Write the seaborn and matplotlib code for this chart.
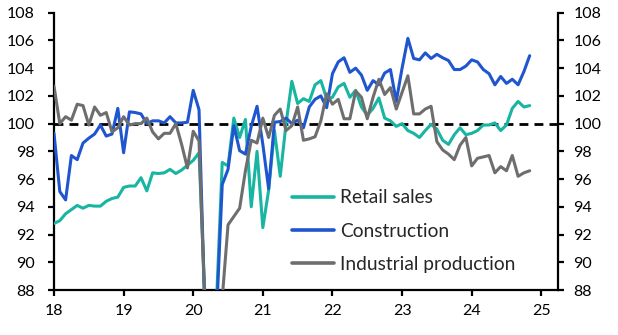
import matplotlib
matplotlib.use("Agg")
import matplotlib.pyplot as plt
import seaborn as sns
import numpy as np
import pandas as pd
from matplotlib.lines import Line2D

# ---- data (monthly, Jan 2018 - Nov 2024) ----
retail_sales = [
    92.8, 93.0, 93.5, 93.8, 94.1, 93.9, 94.1, 94.05, 94.05, 94.4, 94.6, 94.7,
    95.4, 95.5, 95.5, 96.1, 95.15, 96.45, 96.4, 96.45, 96.7, 96.4, 96.65, 97.0,
    97.35, 97.9, 87.6, 70.0, 87.0, 97.2, 96.95, 100.4, 99.0, 100.3, 94.0, 98.0,
    92.5, 95.2, 99.5, 96.2, 100.0, 103.05, 101.45, 101.8, 101.6, 102.8, 103.1, 101.8,
    101.9, 102.65, 102.9, 101.9, 102.4, 101.2, 100.6, 101.1, 101.85, 100.4, 100.2, 99.8,
    100.0, 99.5, 99.3, 99.0, 99.5, 99.95, 99.6, 98.8, 98.5, 99.2, 99.7, 99.2,
    99.3, 99.5, 99.9, 99.9, 100.05, 99.5, 99.9, 101.1, 101.6, 101.2, 101.3,
]
construction = [
    99.3, 95.1, 94.5, 97.7, 97.4, 98.6, 98.95, 99.25, 99.9, 99.1, 99.25, 101.1,
    97.9, 100.85, 100.8, 100.7, 100.0, 100.2, 100.2, 100.05, 100.5, 100.05, 100.05, 100.1,
    102.4, 101.0, 86.5, 72.0, 86.0, 95.6, 96.7, 99.85, 98.05, 97.8, 99.8, 101.25,
    98.5, 95.3, 100.1, 100.15, 100.4, 100.0, 100.25, 99.7, 101.2, 101.75, 102.0, 101.15,
    103.6, 104.45, 104.75, 103.7, 104.0, 103.5, 102.4, 103.1, 102.8, 103.65, 103.9, 101.6,
    104.0, 106.15, 104.7, 104.6, 105.1, 104.7, 105.0, 104.75, 104.55, 103.9, 103.9, 104.15,
    104.6, 104.45, 103.9, 103.6, 102.8, 103.4, 102.9, 103.2, 102.8, 103.75, 104.9,
]
industrial_production = [
    102.7, 100.0, 100.5, 100.25, 101.4, 101.3, 99.9, 101.2, 100.6, 100.8, 99.4, 99.7,
    100.5, 99.9, 100.0, 100.0, 100.4, 99.4, 98.9, 99.3, 99.3, 100.0, 98.5, 96.8,
    99.45, 98.75, 86.8, 72.0, 75.0, 87.4, 92.7, 93.3, 93.9, 96.6, 98.8, 98.6,
    100.4, 99.0, 100.6, 101.05, 99.5, 99.85, 101.2, 98.8, 98.9, 99.05, 100.2, 102.15,
    101.4, 101.75, 100.35, 100.35, 102.35, 101.9, 100.35, 101.9, 103.2, 102.1, 102.6, 101.05,
    102.25, 103.45, 100.7, 100.7, 101.05, 101.25, 98.7, 98.1, 97.8, 97.4, 98.45, 99.0,
    96.95, 97.5, 97.6, 97.7, 96.45, 96.9, 96.6, 97.7, 96.2, 96.45, 96.6,
]
series_names = ["Retail sales", "Construction", "Industrial production"]
series_colors = ["#17b5a2", "#1f56cf", "#6e6e6e"]
x_ticks = [18, 19, 20, 21, 22, 23, 24, 25]
y_ticks = [88, 90, 92, 94, 96, 98, 100, 102, 104, 106, 108]

n = len(retail_sales)
x_vals = 18 + np.arange(n) / 12.0

frames = []
for name, vals in zip(series_names, [retail_sales, construction, industrial_production]):
    frames.append(pd.DataFrame({"x": x_vals[:len(vals)], "value": vals, "series": name}))
df = pd.concat(frames, ignore_index=True)

sns.set_theme(style="ticks")
plt.rcParams["font.family"] = ["Lato", "DejaVu Sans"]

fig = plt.figure(figsize=(6.18, 3.35), dpi=100)
ax = fig.add_axes([54 / 618, 1 - 290 / 335, (558 - 54) / 618, (290 - 12.7) / 335])

ax.axhline(100, color="black", lw=2.0, ls=(0, (3.2, 2.2)), zorder=1)

sns.lineplot(data=df, x="x", y="value", hue="series", hue_order=series_names,
             palette=series_colors, lw=2.2, ax=ax, legend=False, zorder=3)

ax.set_xlim(18, 25.24)
ax.set_ylim(88, 108)
ax.set_xticks(x_ticks)
ax.set_xticklabels([str(t) for t in x_ticks])
ax.set_yticks(y_ticks)
ax.set_yticklabels([str(t) for t in y_ticks])
ax.set_xlabel("")
ax.set_ylabel("")

ax2 = ax.twinx()
ax2.set_ylim(88, 108)
ax2.set_yticks(y_ticks)
ax2.set_yticklabels([str(t) for t in y_ticks])

for a in (ax, ax2):
    a.spines["top"].set_visible(False)
    for s in ("left", "right", "bottom"):
        a.spines[s].set_linewidth(1.6)
        a.spines[s].set_color("black")
    a.tick_params(direction="out", length=4, width=1.6, colors="black", labelsize=11.5)
ax.tick_params(axis="y", pad=10)
ax.tick_params(axis="x", pad=6)
ax2.tick_params(axis="y", pad=7)
ax.spines["right"].set_visible(False)
ax2.spines["left"].set_visible(False)
ax2.spines["bottom"].set_visible(False)

handles = [Line2D([0], [0], color=c, lw=2.6) for c in series_colors]
ax.legend(handles, series_names, frameon=False, loc="lower left",
          bbox_to_anchor=(0.472, 0.062), handlelength=2.2, handletextpad=0.3,
          labelspacing=0.85, fontsize=13.8, borderaxespad=0, borderpad=0)

fig.savefig("out.png", dpi=100)
